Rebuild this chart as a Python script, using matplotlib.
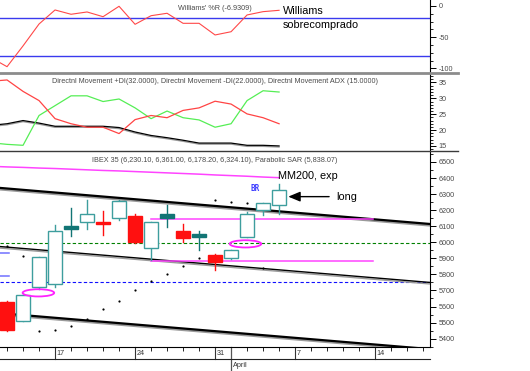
"""IBEX 35 daily candles with Williams %R and Directional Movement panels."""

import matplotlib

matplotlib.use("Agg")
import matplotlib.pyplot as plt
import matplotlib.patheffects as pe
from matplotlib import font_manager
from matplotlib.lines import Line2D
from matplotlib.patches import Ellipse, Rectangle
import numpy as np
import pandas as pd

plt.rcParams["axes.unicode_minus"] = False

# trading days shown on the axis (Mar 11 is just off the left edge)
dates = pd.bdate_range("2003-03-11", "2003-04-18")
candle_dates = pd.bdate_range("2003-03-12", "2003-04-04")
ind_dates = pd.bdate_range("2003-03-11", "2003-04-04")

candle_open = [5627, 5510, 5720, 5741, 6088, 6127, 6128, 6150, 6164, 5963,
               6150, 6070, 6031, 5921, 5900, 6035, 6201, 6230.1]
candle_high = [5636, 5672, 5910, 6108, 6212, 6263, 6195, 6262, 6174, 6128,
               6232, 6112, 6070, 5925, 5954, 6187, 6245, 6361.0]
candle_low = [5450, 5508, 5708, 5724, 6039, 6081, 6046, 6139, 5994, 5890,
              6093, 6004, 5952, 5828, 5898, 6033, 6170, 6178.2]
candle_close = [5454, 5670, 5907, 6069, 6094, 6174, 6112, 6259, 6004, 6125,
                6174, 6025, 6052, 5879, 5952, 6176, 6243, 6324.1]
sar = [5977, 5915, 5448, 5454, 5481, 5523, 5587, 5637, 5703, 5761,
       5803, 5855, 5902, 6263, 6253, 6247, 5838, np.nan]

mm200 = [6473, 6469, 6466, 6462, 6459, 6455, 6451, 6447, 6444, 6440,
         6436, 6432, 6428, 6424, 6419, 6415, 6411, 6406, 6402]
williams_r = [-83, -97.4, -64, -28.9, -6.4, -13.3, -9.6, -17.2, -0.5, -29.4,
              -15.6, -11.7, -27.8, -27.8, -46.5, -41.3, -14.4, -9.1, -6.9309]
di_plus = [16.0, 15.5, 15.2, 24.6, 27.7, 30.8, 30.8, 29.0, 29.8, 27.0,
           23.6, 26.0, 23.9, 23.2, 20.9, 22.0, 29.3, 32.4, 32.0]
di_minus = [35.4, 35.8, 32.2, 29.3, 23.6, 22.0, 20.9, 20.9, 18.9, 23.3,
            24.6, 23.9, 26.2, 27.0, 29.1, 28.2, 25.1, 23.9, 22.0]
adx = [21.5, 22.0, 23.0, 22.2, 21.2, 21.2, 21.2, 21.2, 20.8, 19.4,
       18.3, 17.6, 16.8, 15.9, 15.9, 15.9, 15.2, 15.2, 15.0]

# channel lines: (start day, start price, end day, end price)
channel_lines = [(0, 6343, 27.4, 6114), (0, 5978, 27.4, 5750), (0, 5563, 27.4, 5335)]
support_lines = [6145, 5884]
old_levels = [5932, 5792]
ellipse_centers = [(2.96, 5685), (15.9, 5990)]

W, H = 530, 371
fig = plt.figure(figsize=(W / 100, H / 100), dpi=100)


def rect(x0, y0, x1, y1):
    return [x0 / W, 1 - y1 / H, (x1 - x0) / W, (y1 - y0) / H]


names = {f.name for f in font_manager.fontManager.ttflist}
if "Liberation Sans Narrow" in names:
    small = dict(family="Liberation Sans Narrow", size=6.2)
else:
    small = dict(family="Liberation Sans", size=5.2)
big = dict(family="Liberation Sans", size=7.8)
GRAY = "#4a4a4a"
TEAL = "#3e9e9e"
DTEAL = "#127575"

X_AX = 429.5
ax_w = fig.add_axes(rect(0, 0, X_AX, 73.3))
ax_d = fig.add_axes(rect(0, 73.3, X_AX, 150.7))
ax_p = fig.add_axes(rect(0, 150.7, X_AX, 347.3))

x_ind = dates.get_indexer(ind_dates)
x_c = dates.get_indexer(candle_dates)
xlim = (0.56, 27.4)

for ax in (ax_w, ax_d, ax_p):
    ax.set_facecolor("white")
    for s in ("left", "top", "bottom"):
        ax.spines[s].set_visible(False)
    ax.spines["right"].set_linewidth(0.8)
    ax.yaxis.tick_right()
    ax.tick_params(axis="y", which="major", length=4, width=0.7, pad=2.5,
                   labelsize=small["size"], labelcolor=GRAY)
    ax.tick_params(axis="y", which="minor", length=2, width=0.6)
    for lab in ax.get_yticklabels():
        lab.set_family(small["family"])

# ---- Williams %R
ax_w.axhline(-20, color="#3a3aee", lw=1)
ax_w.axhline(-80, color="#3a3aee", lw=1)
ax_w.plot(x_ind, williams_r, color="#ff4848", lw=0.8)
ax_w.set_yticks([0, -50, -100])
ax_w.set_yticks(np.arange(-100, 1, 12.5), minor=True)
ax_w.set_xticks([])
ax_w.set_ylim(-108, 9.6)
ax_w.text(0.5, 1 - 8 / 73.3, "Williams' %R (-6.9309)", transform=ax_w.transAxes,
          ha="center", va="center", color=GRAY, **small)
ax_w.text(18.25, -8.5, "Williams", ha="left", va="center", **big)
ax_w.text(18.25, -30.5, "sobrecomprado", ha="left", va="center", **big)

# ---- Directional movement
ax_d.plot(x_ind, adx, color="black", lw=0.9,
          path_effects=[pe.SimpleLineShadow(offset=(0, -0.8), shadow_color="#999999", alpha=1), pe.Normal()])
ax_d.plot(x_ind, di_plus, color="#55ee55", lw=0.9)
ax_d.plot(x_ind, di_minus, color="#ff4444", lw=0.9)
ax_d.set_yticks([15, 20, 25, 30, 35])
ax_d.set_yticks(np.arange(14, 38, 1), minor=True)
ax_d.set_xticks([])
ax_d.set_ylim(13.5, 37.9)
ax_d.text(0.5, 1 - 8 / 77.4,
          "Directnl Movement +DI(32.0000), Directnl Movement -DI(22.0000), "
          "Directnl Movement ADX (15.0000)",
          transform=ax_d.transAxes, ha="center", va="center", color=GRAY, **small)

# ---- Price panel
for x0, p0, x1, p1 in channel_lines:
    lw = 1.0 if 5700 < p0 < 6100 else 1.6
    ax_p.plot([x0, x1], [p0, p1], color="black", lw=lw, zorder=2,
              path_effects=[pe.SimpleLineShadow(offset=(0, -1.1), shadow_color="#9a9a9a", alpha=1),
                            pe.Normal()])
ax_p.plot(x_ind, mm200, color="#ff44ff", lw=1.1, zorder=2)
ax_p.text(17.95, 6415, "MM200, exp", ha="left", va="center", **big)
for lvl in support_lines:
    ax_p.plot([10, 23.9], [lvl, lvl], color="#ff44ff", lw=1.1, zorder=2)
for lvl in old_levels:
    ax_p.plot([0, 1.1], [lvl, lvl], color="#7070ff", lw=1.1, zorder=2)
ax_p.axhline(5995, color="#008000", lw=0.8, ls=(0, (3, 2)), zorder=1)
ax_p.axhline(5755, color="#1010ff", lw=0.8, ls=(0, (3, 2)), zorder=1)

body_w = 0.875
for xi, o, h, l, c in zip(x_c, candle_open, candle_high, candle_low, candle_close):
    if c < o:
        col, face = "#ff1010", "#ff1010"
    elif c - o >= 35:
        col, face = TEAL, "white"
    else:
        col, face = DTEAL, DTEAL
    ax_p.plot([xi, xi], [l, h], color=col, lw=1, zorder=3)
    lo, hi = min(o, c), max(o, c)
    if hi - lo < 16:
        mid = (hi + lo) / 2
        lo, hi = mid - 8, mid + 8
    ax_p.add_patch(Rectangle((xi - body_w / 2, lo), body_w, hi - lo, facecolor=face,
                             edgecolor=col, lw=1, zorder=4))

ax_p.scatter(x_ind[1:], sar, s=2.5, color="black", zorder=5, linewidths=0)
for cx, cy in ellipse_centers:
    ax_p.add_patch(Ellipse((cx, cy), 1.97, 45, fill=False, edgecolor="#ff22ff", lw=1.3, zorder=6))

ax_p.text(16.2, 6332, "BR", color="#4040ff", family="DejaVu Sans Mono", size=5.5,
          weight="bold", ha="left", va="center")
ax_p.annotate("", xy=(18.4, 6284), xytext=(21.3, 6284),
              arrowprops=dict(arrowstyle="-|>,head_length=0.6,head_width=0.25",
                              color="black", lw=1, mutation_scale=12))
ax_p.text(21.55, 6284, "long", ha="left", va="center", **big)
ax_p.text(0.5, 1 - 9.5 / 196.6,
          "IBEX 35 (6,230.10, 6,361.00, 6,178.20, 6,324.10), Parabolic SAR (5,838.07)",
          transform=ax_p.transAxes, ha="center", va="center", color=GRAY, **small)

ax_p.set_yticks(np.arange(5400, 6501, 100))
ax_p.set_yticks(np.arange(5350, 6551, 50), minor=True)
for lab in ax_p.get_yticklabels():
    lab.set_family(small["family"])
ax_p.spines["bottom"].set_visible(True)
ax_p.spines["bottom"].set_linewidth(0.8)
ax_p.set_xticks([])
day_pos = np.arange(len(dates))
ax_p.set_xticks(day_pos[(day_pos > xlim[0]) & (day_pos < xlim[1])], minor=True)
ax_p.tick_params(axis="x", which="minor", length=2.6, width=0.6, direction="out")
ax_p.set_ylim(5346, 6570)

# limits last: set_xticks can widen the view
for ax in (ax_w, ax_d, ax_p):
    ax.set_xlim(*xlim)

# date labels below the price panel
xt = ax_p.get_xaxis_transform()
ph = 196.6
for i, d in enumerate(dates):
    if i < xlim[0] or i > xlim[1]:
        continue
    if d.weekday() == 0:
        ax_p.plot([i, i], [0, -12 / ph], transform=xt, clip_on=False, color="#333333", lw=0.8)
        ax_p.text(i + 0.1, -6.2 / ph, str(d.day), transform=xt, ha="left", va="center",
                  color="#333333", **small)
    if d.day == 1:
        ax_p.plot([i, i], [0, -24 / ph], transform=xt, clip_on=False, color="#555555", lw=0.9)
        ax_p.text(i + 0.12, -18 / ph, d.strftime("%B"), transform=xt, ha="left", va="center",
                  color="#333333", **small)

# panel separators
fig.add_artist(Line2D([0, 458 / W], [1 - 73.3 / H] * 2, color="#8c8c8c", lw=2))
fig.add_artist(Line2D([0, 458 / W], [1 - 150.7 / H] * 2, color="#3a3a3a", lw=1))
fig.add_artist(Line2D([0, 430 / W], [1 - 359.3 / H] * 2, color="#222222", lw=0.8))

fig.savefig("out.png", dpi=100)
